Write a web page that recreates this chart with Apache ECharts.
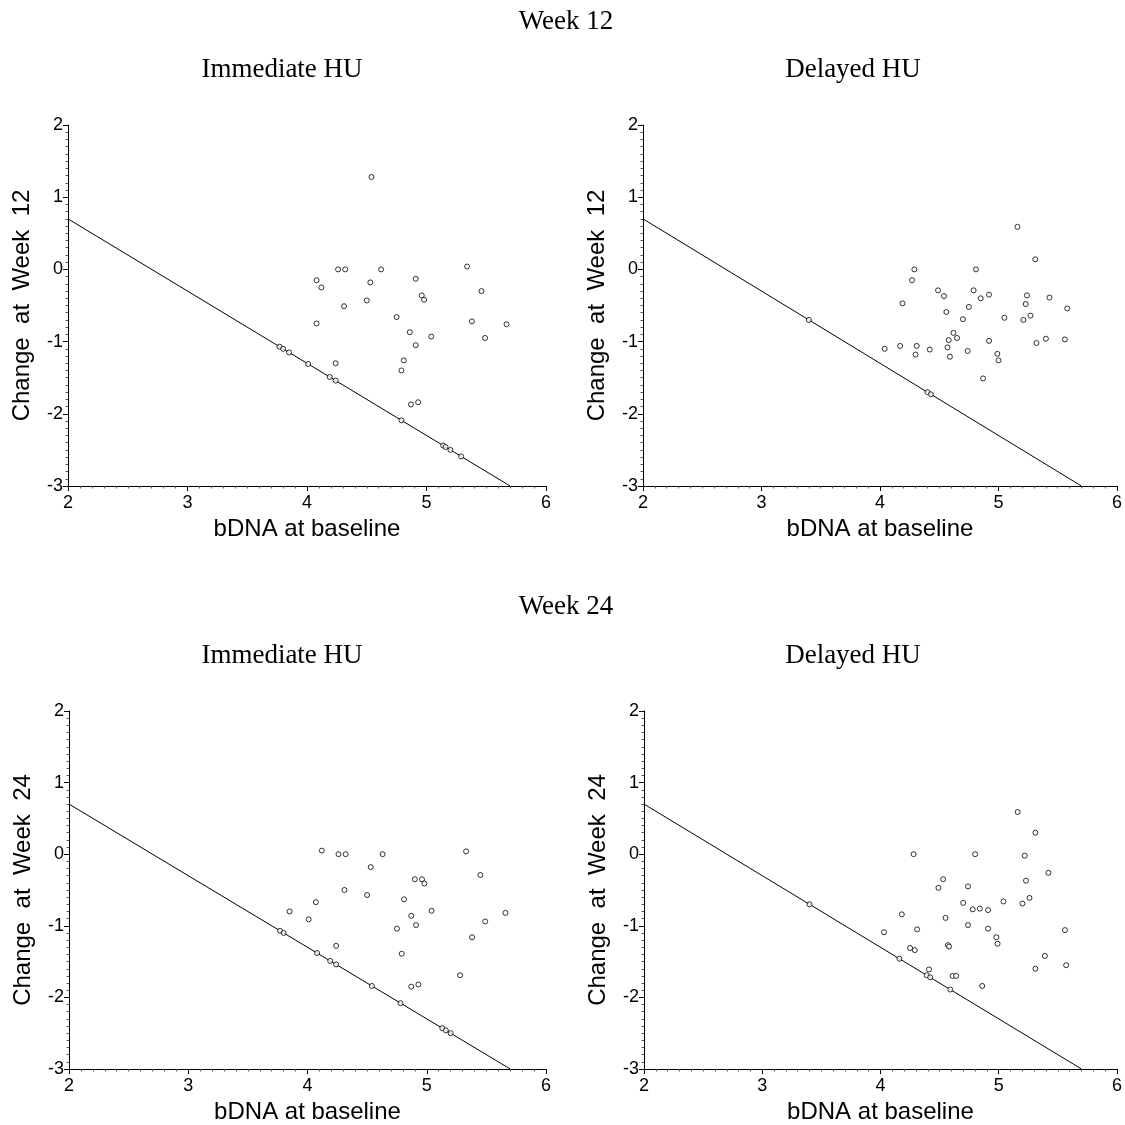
<!DOCTYPE html>
<html lang="en">
<head>
  <meta charset="UTF-8">
  <title>bDNA change</title>
  <script src="https://cdn.jsdelivr.net/npm/echarts@6/dist/echarts.min.js"></script>
  <style type="text/css">
    body { margin: 0; background: #fff; }
    #main { width: 1125px; height: 1125px; }
  </style>
</head>
<body>
<div id="main"></div>
<script type="text/javascript">
// Immediate HU, week 12
var im12X = [4.54, 4.26, 4.32, 4.62, 5.34, 4.08, 4.12, 4.53, 4.91, 5.46, 4.96, 4.98, 4.50, 4.31,
  4.08, 4.75, 5.38, 5.67, 4.86, 5.04, 5.49, 4.91, 4.24, 4.81, 4.79, 4.87, 4.93,
  3.77, 3.80, 3.85, 4.01, 4.19, 4.24, 4.79, 5.14, 5.16, 5.20, 5.29];
var im12Y = [1.28, 0.00, 0.00, 0.00, 0.04, -0.15, -0.25, -0.18, -0.13, -0.30, -0.36, -0.42, -0.43, -0.51,
  -0.75, -0.66, -0.72, -0.76, -0.87, -0.93, -0.95, -1.05, -1.30, -1.26, -1.40, -1.87, -1.84,
  -1.07, -1.10, -1.15, -1.31, -1.49, -1.54, -2.09, -2.44, -2.46, -2.50, -2.59];

// Delayed HU, week 12
var de12X = [5.16, 5.31, 4.29, 4.81, 4.27, 4.49, 4.54, 4.79, 4.85, 4.92, 5.24, 5.43, 5.23, 4.19,
  5.58, 4.75, 4.56, 4.70, 5.05, 5.21, 5.27, 4.62, 4.65, 4.92, 4.58, 5.32, 5.40, 5.56,
  4.04, 4.17, 4.31, 4.30, 4.42, 4.57, 4.59, 4.74, 4.99, 5.00, 4.87,
  3.40, 4.40, 4.43];
var de12Y = [0.59, 0.14, 0.00, 0.00, -0.15, -0.29, -0.37, -0.29, -0.40, -0.35, -0.36, -0.39, -0.48, -0.47,
  -0.54, -0.52, -0.59, -0.69, -0.67, -0.70, -0.64, -0.88, -0.95, -0.99, -0.98, -1.02, -0.96, -0.97,
  -1.10, -1.06, -1.06, -1.18, -1.11, -1.08, -1.21, -1.13, -1.17, -1.26, -1.51,
  -0.70, -1.70, -1.73];

// Immediate HU, week 24
var im24X = [4.12, 4.26, 4.32, 4.63, 5.33, 4.53, 5.45, 4.90, 4.96, 4.98, 4.31, 4.50, 4.81, 4.07,
  5.04, 5.66, 3.85, 4.01, 4.87, 5.49, 4.91, 4.75, 5.38, 4.24, 4.79, 5.28, 4.87, 4.93,
  3.77, 3.80, 4.08, 4.19, 4.24, 4.54, 4.78, 5.13, 5.16, 5.20];
var im24Y = [0.05, 0.00, 0.00, 0.00, 0.04, -0.18, -0.29, -0.35, -0.35, -0.41, -0.50, -0.57, -0.63, -0.67,
  -0.79, -0.82, -0.80, -0.91, -0.86, -0.94, -0.99, -1.04, -1.16, -1.28, -1.39, -1.69, -1.85, -1.82,
  -1.07, -1.10, -1.38, -1.49, -1.54, -1.84, -2.08, -2.43, -2.46, -2.50];

// Delayed HU, week 24
var de24X = [5.16, 5.31, 4.28, 4.80, 5.22, 5.42, 4.53, 4.49, 4.74, 5.23, 5.26, 5.20, 5.04, 4.70,
  4.78, 4.84, 4.91, 4.18, 4.55, 4.74, 4.91, 4.31, 5.56, 4.03, 4.98, 4.99, 4.57, 4.58,
  4.25, 4.29, 5.39, 5.57, 5.31, 4.41, 4.61, 4.64, 4.86,
  3.40, 4.16, 4.39, 4.42, 4.59];
var de24Y = [0.59, 0.30, 0.00, 0.00, -0.02, -0.26, -0.35, -0.47, -0.45, -0.37, -0.61, -0.69, -0.66, -0.68,
  -0.77, -0.76, -0.78, -0.84, -0.89, -0.99, -1.04, -1.05, -1.06, -1.09, -1.16, -1.25, -1.27, -1.29,
  -1.31, -1.34, -1.42, -1.55, -1.60, -1.61, -1.70, -1.70, -1.84,
  -0.70, -1.46, -1.69, -1.72, -1.89];

// reference line drawn in every panel
var refX = [2, 5.7];
var refY = [0.7, -3];

var xTicks = ['2', '3', '4', '5', '6'];
var yTicks = ['-3', '-2', '-1', '0', '1', '2'];

function pairs(xs, ys) {
  var out = [];
  for (var i = 0; i < xs.length; i++) out.push([xs[i], ys[i]]);
  return out;
}

var sans = 'Liberation Sans';
var serif = 'Liberation Serif';

var grids = [
  {left: 68, top: 125, width: 478, height: 361},
  {left: 643, top: 125, width: 477, height: 361},
  {left: 69, top: 711, width: 477, height: 361},
  {left: 644, top: 711, width: 476, height: 361}
];
var yNames = ['Change  at  Week  12', 'Change  at  Week  12', 'Change  at  Week  24', 'Change  at  Week  24'];
var sets = [[im12X, im12Y], [de12X, de12Y], [im24X, im24Y], [de24X, de24Y]];

var xAxes = [], yAxes = [], series = [];
for (var g = 0; g < 4; g++) {
  xAxes.push({
    gridIndex: g, type: 'value', min: 2, max: 6, interval: 1,
    name: 'bDNA at baseline', nameLocation: 'middle', nameGap: 31,
    nameTextStyle: {fontFamily: sans, fontSize: 24, color: '#000'},
    axisLine: {onZero: false, lineStyle: {color: '#000', width: 1}},
    axisTick: {length: 5, lineStyle: {color: '#000'}},
    minorTick: {show: true, splitNumber: 10, length: 2.5, lineStyle: {color: '#555'}},
    axisLabel: {fontFamily: sans, fontSize: 18, color: '#000', margin: 8,
      formatter: function (v) { return xTicks[Math.round(v) - 2]; }},
    splitLine: {show: false}
  });
  yAxes.push({
    gridIndex: g, type: 'value', min: -3, max: 2, interval: 1,
    name: yNames[g], nameLocation: 'middle', nameGap: 34, nameRotate: 90,
    nameTextStyle: {fontFamily: sans, fontSize: 24, color: '#000'},
    axisLine: {show: true, onZero: false, lineStyle: {color: '#000', width: 1}},
    axisTick: {show: true, length: 5, lineStyle: {color: '#000'}},
    minorTick: {show: true, splitNumber: 10, length: 2.5, lineStyle: {color: '#555'}},
    axisLabel: {fontFamily: sans, fontSize: 18, color: '#000', margin: 5,
      formatter: function (v) { return yTicks[Math.round(v) + 3]; }},
    splitLine: {show: false}
  });
  series.push({
    type: 'line', xAxisIndex: g, yAxisIndex: g,
    data: pairs(refX, refY), symbol: 'none', silent: true, z: 1,
    lineStyle: {color: '#000', width: 1}
  });
  series.push({
    type: 'scatter', xAxisIndex: g, yAxisIndex: g,
    data: pairs(sets[g][0], sets[g][1]),
    symbol: 'circle', symbolSize: 5, z: 2,
    itemStyle: {color: '#fff', borderColor: '#000', borderWidth: 1}
  });
}

var headStyle = {fontFamily: serif, fontSize: 27, fill: '#000', textAlign: 'center', textVerticalAlign: 'middle'};
function head(text, x, y) {
  return {type: 'text', x: x, y: y, style: Object.assign({text: text}, headStyle)};
}

var myChart = echarts.init(document.getElementById('main'));
var option = {
  backgroundColor: '#fff',
  animation: false,
  grid: grids,
  xAxis: xAxes,
  yAxis: yAxes,
  series: series,
  graphic: [
    head('Week 12', 566, 22),
    head('Immediate HU', 282, 70),
    head('Delayed HU', 853, 70),
    head('Week 24', 566, 607),
    head('Immediate HU', 282, 656),
    head('Delayed HU', 853, 656)
  ]
};
myChart.setOption(option);
</script>
</body>
</html>
